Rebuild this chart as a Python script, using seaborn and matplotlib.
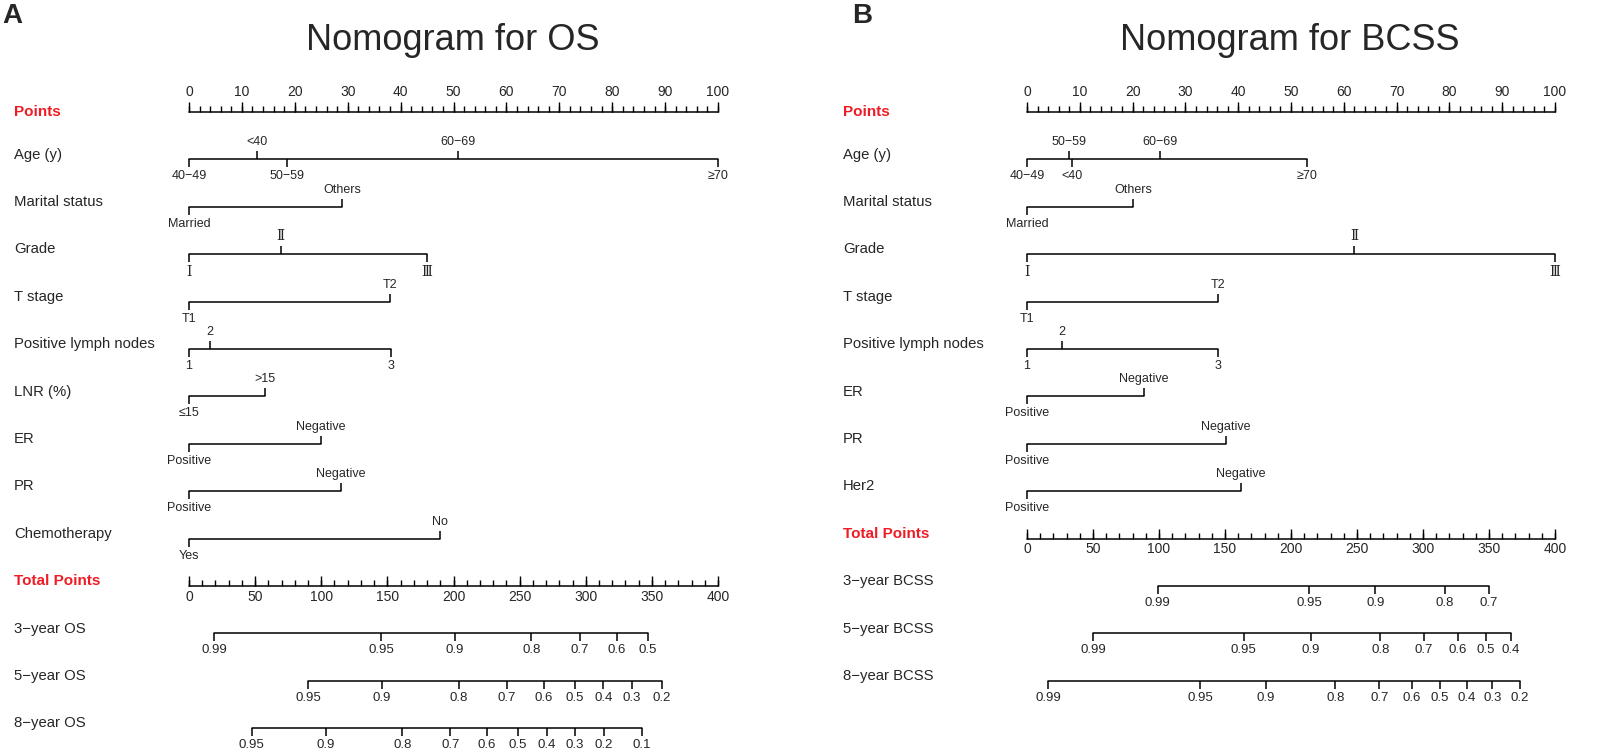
import matplotlib
matplotlib.use("Agg")
import numpy as np
import pandas as pd
import matplotlib.pyplot as plt
import seaborn as sns

sns.set_theme(style="white")
plt.rcParams['font.family'] = ['Liberation Sans', 'DejaVu Sans']

# ---- panel A : OS ----
os_vars = ["Age (y)", "Marital status", "Grade", "T stage", "Positive lymph nodes",
           "LNR (%)", "ER", "PR", "Chemotherapy"]
os_levels = [["40−49", "<40", "50−59", "60−69", "≥70"],
             ["Married", "Others"],
             ["Ⅰ", "Ⅱ", "Ⅲ"],
             ["T1", "T2"],
             ["1", "2", "3"],
             ["≤15", ">15"],
             ["Positive", "Negative"],
             ["Positive", "Negative"],
             ["Yes", "No"]]
os_points = [[0, 12.8, 18.6, 50.9, 100],
             [0, 29.0],
             [0, 17.3, 44.9],
             [0, 38.0],
             [0, 3.9, 38.2],
             [0, 14.3],
             [0, 24.9],
             [0, 28.7],
             [0, 47.4]]
os_surv_names = ["3−year OS", "5−year OS", "8−year OS"]
os_surv_probs = [["0.99", "0.95", "0.9", "0.8", "0.7", "0.6", "0.5"],
                 ["0.95", "0.9", "0.8", "0.7", "0.6", "0.5", "0.4", "0.3", "0.2"],
                 ["0.95", "0.9", "0.8", "0.7", "0.6", "0.5", "0.4", "0.3", "0.2", "0.1"]]
os_surv_total = [[19.2, 145.4, 201.1, 258.9, 295.5, 323.4, 347.0],
                 [90.1, 145.9, 203.9, 240.3, 268.5, 291.8, 313.2, 334.6, 357.5],
                 [47.3, 103.4, 161.4, 197.5, 225.4, 248.7, 270.4, 291.5, 313.8, 342.3]]

# ---- panel B : BCSS ----
bcss_vars = ["Age (y)", "Marital status", "Grade", "T stage", "Positive lymph nodes",
             "ER", "PR", "Her2"]
bcss_levels = [["40−49", "50−59", "<40", "60−69", "≥70"],
               ["Married", "Others"],
               ["Ⅰ", "Ⅱ", "Ⅲ"],
               ["T1", "T2"],
               ["1", "2", "3"],
               ["Positive", "Negative"],
               ["Positive", "Negative"],
               ["Positive", "Negative"]]
bcss_points = [[0, 8.0, 8.5, 25.1, 53.0],
               [0, 20.1],
               [0, 62.0, 100],
               [0, 36.2],
               [0, 6.6, 36.1],
               [0, 22.2],
               [0, 37.7],
               [0, 40.5]]
bcss_surv_names = ["3−year BCSS", "5−year BCSS", "8−year BCSS"]
bcss_surv_probs = [["0.99", "0.95", "0.9", "0.8", "0.7"],
                   ["0.99", "0.95", "0.9", "0.8", "0.7", "0.6", "0.5", "0.4"],
                   ["0.99", "0.95", "0.9", "0.8", "0.7", "0.6", "0.5", "0.4", "0.3", "0.2"]]
bcss_surv_total = [[99.1, 213.6, 264.0, 316.8, 349.9],
                   [50.1, 164.2, 215.1, 267.8, 300.6, 326.2, 347.6, 366.5],
                   [16.2, 131.1, 180.8, 233.5, 267.0, 291.5, 313.0, 333.0, 352.5, 373.3]]

max_total = 400
W, H = 1609, 752
ROW0, ROWSTEP = 112, 47.4
TK = 0.17  # tick length in row units
RED = "#ee1c25"
ROMAN = {"Ⅰ", "Ⅱ", "Ⅲ"}


def cat_label(ax, x, y, s, va):
    # roman numerals of the grade row are drawn with serifs in the original
    if s in ROMAN:
        ax.text(x, y, s, ha="center", va=va, fontsize=10,
                family=["DejaVu Serif", "DejaVu Sans"])
    else:
        ax.text(x, y, s, ha="center", va=va, fontsize=9)


def draw_panel(ax_px, zero_px, hundred_px, label_px, letter, title, title_px,
               variables, levels, points, surv_names, surv_probs, surv_total):
    x0, x1 = ax_px
    ax = plt.gcf().add_axes([x0 / W, 0, (x1 - x0) / W, 1])
    scale = (hundred_px - zero_px) / 100
    ax.set_xlim((x0 - zero_px) / scale, (x1 - zero_px) / scale)
    ax.set_ylim((H - ROW0) / ROWSTEP, -ROW0 / ROWSTEP)
    lab_x = (label_px - zero_px) / scale

    n = len(variables)
    total_row = n + 1
    segs = [(0, 100, 0)]
    for i, pts in enumerate(points):
        segs.append((min(pts), max(pts), i + 1))
    segs.append((0, 100, total_row))
    for j, tot in enumerate(surv_total):
        segs.append((min(tot) * 100 / max_total, max(tot) * 100 / max_total, total_row + 1 + j))
    df = pd.DataFrame([(a, r, k) for k, (a, b, r) in enumerate(segs) for a in (a, b)],
                      columns=["x", "y", "seg"])
    sns.lineplot(data=df, x="x", y="y", units="seg", estimator=None, sort=False,
                 color="black", lw=1.1, ax=ax)

    # points axis
    ax.text(lab_x, 0, "Points", color=RED, fontsize=11, fontweight="bold", va="center")
    minor = np.arange(0, 101, 2)
    ax.vlines(minor, 0, -TK * 0.7, color="black", lw=1.0)
    major = np.arange(0, 101, 10)
    ax.vlines(major, 0, -TK * 1.2, color="black", lw=1.0)
    for m in major:
        ax.text(m, -TK * 1.2 - 0.08, str(m), ha="center", va="bottom", fontsize=10)

    # variable rows
    for i, (name, labs, pts) in enumerate(zip(variables, levels, points)):
        r = i + 1
        ax.text(lab_x, r - 0.1, name, fontsize=10.7, va="center")
        order = np.argsort(pts, kind="stable")
        for k, idx in enumerate(order):
            p = pts[idx]
            if k % 2 == 0:
                ax.vlines(p, r, r + TK, color="black", lw=1.1)
                cat_label(ax, p, r + TK + 0.06, labs[idx], "top")
            else:
                ax.vlines(p, r, r - TK, color="black", lw=1.1)
                cat_label(ax, p, r - TK - 0.06, labs[idx], "bottom")

    # total points axis
    ax.text(lab_x, total_row - 0.1, "Total Points", color=RED, fontsize=11,
            fontweight="bold", va="center")
    tminor = np.arange(0, max_total + 1, 10) * 100 / max_total
    ax.vlines(tminor, total_row, total_row - TK * 0.7, color="black", lw=1.0)
    tmajor = np.arange(0, max_total + 1, 50)
    ax.vlines(tmajor * 100 / max_total, total_row, total_row - TK * 1.2, color="black", lw=1.0)
    for m in tmajor:
        ax.text(m * 100 / max_total, total_row + 0.08, str(m), ha="center", va="top", fontsize=10)

    # survival axes
    for j, (name, probs, tot) in enumerate(zip(surv_names, surv_probs, surv_total)):
        r = total_row + 1 + j
        ax.text(lab_x, r - 0.1, name, fontsize=10.7, va="center")
        xs = np.array(tot) * 100 / max_total
        ax.vlines(xs, r, r + TK, color="black", lw=1.1)
        for x, lab in zip(xs, probs):
            ax.text(x, r + TK + 0.06, lab, ha="center", va="top", fontsize=9.5)

    ax.text((title_px - zero_px) / scale, (41 - ROW0) / ROWSTEP, title, ha="center",
            va="center", fontsize=26)
    ax.text((letter[1] - zero_px) / scale, (16 - ROW0) / ROWSTEP, letter[0], ha="left",
            va="center", fontsize=20, fontweight="bold")
    ax.set_axis_off()
    return ax


fig = plt.figure(figsize=(W / 100, H / 100), dpi=100)
draw_panel((0, 800), 189, 718, 14, ("A", 2), "Nomogram for OS", 453,
           os_vars, os_levels, os_points, os_surv_names, os_surv_probs, os_surv_total)
draw_panel((805, 1609), 1027, 1555, 843, ("B", 852), "Nomogram for BCSS", 1290,
           bcss_vars, bcss_levels, bcss_points, bcss_surv_names, bcss_surv_probs, bcss_surv_total)
fig.savefig("out.png", dpi=100)
